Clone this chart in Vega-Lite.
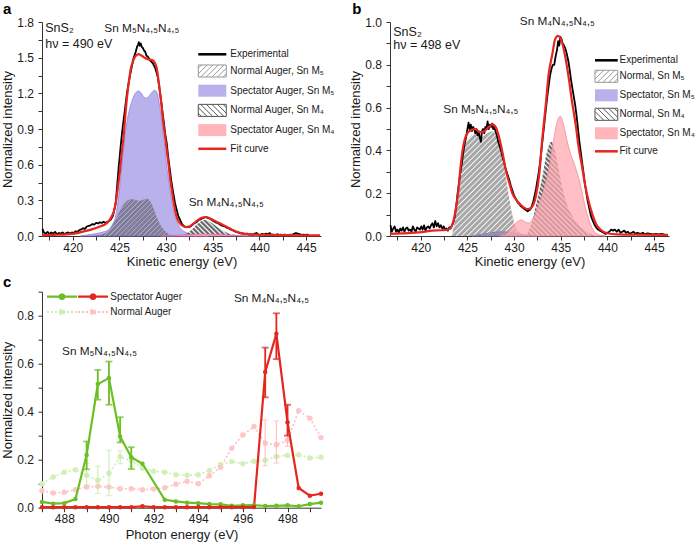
{
"$schema": "https://vega.github.io/schema/vega-lite/v6.json",
"background": "white",
"padding": {"left": 1, "top": 1, "right": 4, "bottom": 4},
"bounds": "flush",
"columns": 2,
"spacing": {"row": 55.7, "column": 69},
"resolve": {"scale": {"fill": "independent", "stroke": "independent", "shape": "independent", "strokeDash": "independent"}, "legend": {"fill": "independent", "stroke": "independent", "shape": "independent", "strokeDash": "independent"}},
"config": {
  "font": "Liberation Sans",
  "view": {"stroke": null},
  "axis": {"grid": false, "labelFontSize": 12, "titleFontSize": 13, "titleFontWeight": "normal", "labelColor": "#1a1a1a", "titleColor": "#1a1a1a", "domainColor": "#333333", "tickColor": "#333333", "tickSize": 4, "labelFlush": false, "labelOverlap": false},
  "axisX": {"labelPadding": 2, "titlePadding": 2},
  "axisY": {"labelPadding": 4.5, "titlePadding": 2},
  "legend": {"labelFont": "Liberation Sans", "labelColor": "#1a1a1a", "labelLimit": 300, "labelFontSize": 10, "symbolOpacity": 1},
  "title": {"fontSize": 15, "fontWeight": "bold", "anchor": "start", "frame": "group", "color": "#000000", "baseline": "alphabetic"},
  "text": {"font": "Liberation Sans", "fontSize": 12.5, "color": "#1a1a1a"}
},
"datasets": {
  "a_exp": [{"x":416.75,"y":0.06},{"x":416.9,"y":0.03},{"x":417.1,"y":0.02},{"x":417.3,"y":0.035},{"x":417.5,"y":0.015},{"x":417.7,"y":0.03},{"x":417.9,"y":0.02},{"x":418.1,"y":0.035},{"x":418.3,"y":0.015},{"x":418.5,"y":0.025},{"x":418.7,"y":0.02},{"x":418.9,"y":0.03},{"x":419.1,"y":0.015},{"x":419.3,"y":0.025},{"x":419.5,"y":0.03},{"x":419.7,"y":0.02},{"x":419.9,"y":0.03},{"x":420.1,"y":0.025},{"x":420.3,"y":0.04},{"x":420.5,"y":0.035},{"x":420.7,"y":0.05},{"x":420.9,"y":0.055},{"x":421.1,"y":0.065},{"x":421.3,"y":0.06},{"x":421.5,"y":0.08},{"x":421.7,"y":0.085},{"x":421.9,"y":0.09},{"x":422.1,"y":0.1},{"x":422.3,"y":0.095},{"x":422.5,"y":0.11},{"x":422.7,"y":0.105},{"x":422.9,"y":0.115},{"x":423.1,"y":0.11},{"x":423.3,"y":0.12},{"x":423.5,"y":0.11},{"x":423.7,"y":0.12},{"x":423.9,"y":0.125},{"x":424.1,"y":0.14},{"x":424.3,"y":0.17},{"x":424.45,"y":0.22},{"x":424.6,"y":0.28},{"x":424.75,"y":0.42},{"x":424.92,"y":0.58},{"x":425.1,"y":0.73},{"x":425.28,"y":0.87},{"x":425.45,"y":0.98},{"x":425.63,"y":1.09},{"x":425.8,"y":1.2},{"x":425.99,"y":1.29},{"x":426.15,"y":1.36},{"x":426.34,"y":1.43},{"x":426.5,"y":1.49},{"x":426.62,"y":1.52},{"x":426.75,"y":1.55},{"x":426.88,"y":1.59},{"x":427.0,"y":1.61},{"x":427.08,"y":1.63},{"x":427.18,"y":1.6},{"x":427.28,"y":1.62},{"x":427.4,"y":1.59},{"x":427.52,"y":1.58},{"x":427.64,"y":1.56},{"x":427.76,"y":1.55},{"x":427.88,"y":1.52},{"x":428.0,"y":1.51},{"x":428.12,"y":1.5},{"x":428.24,"y":1.48},{"x":428.36,"y":1.47},{"x":428.48,"y":1.46},{"x":428.6,"y":1.45},{"x":428.72,"y":1.43},{"x":428.84,"y":1.41},{"x":428.96,"y":1.38},{"x":429.1,"y":1.34},{"x":429.22,"y":1.28},{"x":429.36,"y":1.2},{"x":429.5,"y":1.12},{"x":429.63,"y":1.03},{"x":429.77,"y":0.95},{"x":429.9,"y":0.86},{"x":430.07,"y":0.78},{"x":430.22,"y":0.67},{"x":430.4,"y":0.56},{"x":430.58,"y":0.45},{"x":430.77,"y":0.36},{"x":430.95,"y":0.28},{"x":431.13,"y":0.22},{"x":431.3,"y":0.17},{"x":431.5,"y":0.135},{"x":431.7,"y":0.1},{"x":431.9,"y":0.085},{"x":432.1,"y":0.075},{"x":432.3,"y":0.08},{"x":432.5,"y":0.075},{"x":432.7,"y":0.085},{"x":432.9,"y":0.1},{"x":433.1,"y":0.11},{"x":433.3,"y":0.12},{"x":433.5,"y":0.135},{"x":433.7,"y":0.14},{"x":433.9,"y":0.15},{"x":434.1,"y":0.155},{"x":434.3,"y":0.16},{"x":434.5,"y":0.15},{"x":434.7,"y":0.145},{"x":434.9,"y":0.135},{"x":435.1,"y":0.125},{"x":435.3,"y":0.115},{"x":435.5,"y":0.11},{"x":435.7,"y":0.1},{"x":435.9,"y":0.09},{"x":436.1,"y":0.085},{"x":436.3,"y":0.08},{"x":436.5,"y":0.07},{"x":436.7,"y":0.065},{"x":436.9,"y":0.055},{"x":437.1,"y":0.05},{"x":437.3,"y":0.04},{"x":437.5,"y":0.035},{"x":437.7,"y":0.03},{"x":437.9,"y":0.025},{"x":438.1,"y":0.02},{"x":438.3,"y":0.02},{"x":438.5,"y":0.015},{"x":438.7,"y":0.02},{"x":438.9,"y":0.012},{"x":439.1,"y":0.015},{"x":439.3,"y":0.01},{"x":439.5,"y":0.02},{"x":439.7,"y":0.025},{"x":439.9,"y":0.012},{"x":440.1,"y":0.01},{"x":440.3,"y":0.018},{"x":440.5,"y":0.012},{"x":440.7,"y":0.02},{"x":440.9,"y":0.015},{"x":441.1,"y":0.025},{"x":441.3,"y":0.01},{"x":441.5,"y":0.012},{"x":441.7,"y":0.008},{"x":441.9,"y":0.015},{"x":442.1,"y":0.01},{"x":442.3,"y":0.012},{"x":442.5,"y":0.008},{"x":442.7,"y":0.012},{"x":442.9,"y":0.01},{"x":443.1,"y":0.008},{"x":443.3,"y":0.012},{"x":443.5,"y":0.01},{"x":443.7,"y":0.018},{"x":443.9,"y":0.025},{"x":444.1,"y":0.02},{"x":444.3,"y":0.015},{"x":444.5,"y":0.01},{"x":444.7,"y":0.012},{"x":444.9,"y":0.01},{"x":445.1,"y":0.012},{"x":445.3,"y":0.008}],
  "a_fit": [{"x":416.7,"y":0.008},{"x":418,"y":0.01},{"x":419,"y":0.012},{"x":420.1,"y":0.02},{"x":421.1,"y":0.037},{"x":422.2,"y":0.06},{"x":422.9,"y":0.08},{"x":423.6,"y":0.105},{"x":424.0,"y":0.14},{"x":424.2,"y":0.17},{"x":424.45,"y":0.22},{"x":424.65,"y":0.3},{"x":424.85,"y":0.42},{"x":425.06,"y":0.55},{"x":425.25,"y":0.7},{"x":425.4,"y":0.8},{"x":425.6,"y":0.98},{"x":425.75,"y":1.12},{"x":425.9,"y":1.23},{"x":426.05,"y":1.32},{"x":426.2,"y":1.4},{"x":426.45,"y":1.47},{"x":426.7,"y":1.51},{"x":427.05,"y":1.53},{"x":427.3,"y":1.52},{"x":427.6,"y":1.505},{"x":427.95,"y":1.49},{"x":428.2,"y":1.485},{"x":428.5,"y":1.48},{"x":428.8,"y":1.455},{"x":429.0,"y":1.41},{"x":429.15,"y":1.33},{"x":429.36,"y":1.2},{"x":429.53,"y":1.08},{"x":429.7,"y":0.95},{"x":429.9,"y":0.83},{"x":430.07,"y":0.72},{"x":430.25,"y":0.61},{"x":430.4,"y":0.5},{"x":430.6,"y":0.39},{"x":430.77,"y":0.3},{"x":430.95,"y":0.22},{"x":431.13,"y":0.16},{"x":431.35,"y":0.12},{"x":431.6,"y":0.095},{"x":431.9,"y":0.08},{"x":432.2,"y":0.075},{"x":432.5,"y":0.08},{"x":432.8,"y":0.095},{"x":433.1,"y":0.115},{"x":433.5,"y":0.14},{"x":433.9,"y":0.155},{"x":434.2,"y":0.16},{"x":434.5,"y":0.155},{"x":434.9,"y":0.14},{"x":435.3,"y":0.125},{"x":435.8,"y":0.105},{"x":436.3,"y":0.085},{"x":436.8,"y":0.065},{"x":437.2,"y":0.048},{"x":437.7,"y":0.032},{"x":438.2,"y":0.022},{"x":438.8,"y":0.015},{"x":439.5,"y":0.012},{"x":440.5,"y":0.01},{"x":442,"y":0.008},{"x":444,"y":0.006},{"x":446.5,"y":0.005}],
  "a_s5": [{"x":420.8,"y":0},{"x":421.5,"y":0.008},{"x":422.5,"y":0.02},{"x":423.3,"y":0.035},{"x":423.8,"y":0.05},{"x":424.2,"y":0.09},{"x":424.6,"y":0.17},{"x":424.9,"y":0.32},{"x":425.15,"y":0.5},{"x":425.4,"y":0.7},{"x":425.65,"y":0.88},{"x":425.9,"y":1.0},{"x":426.2,"y":1.1},{"x":426.5,"y":1.17},{"x":426.8,"y":1.21},{"x":427.05,"y":1.22},{"x":427.35,"y":1.2},{"x":427.6,"y":1.17},{"x":427.9,"y":1.16},{"x":428.2,"y":1.18},{"x":428.5,"y":1.21},{"x":428.8,"y":1.225},{"x":429.05,"y":1.2},{"x":429.25,"y":1.12},{"x":429.45,"y":1.02},{"x":429.65,"y":0.88},{"x":429.85,"y":0.75},{"x":430.05,"y":0.6},{"x":430.3,"y":0.45},{"x":430.55,"y":0.32},{"x":430.8,"y":0.21},{"x":431.1,"y":0.13},{"x":431.5,"y":0.07},{"x":432.0,"y":0.035},{"x":432.6,"y":0.015},{"x":433.3,"y":0.006},{"x":434.5,"y":0}],
  "a_n5": [{"x":421.9,"y":0},{"x":422.8,"y":0.01},{"x":423.5,"y":0.025},{"x":424.0,"y":0.06},{"x":424.4,"y":0.11},{"x":424.9,"y":0.19},{"x":425.4,"y":0.26},{"x":425.9,"y":0.3},{"x":426.3,"y":0.312},{"x":426.7,"y":0.302},{"x":427.1,"y":0.296},{"x":427.5,"y":0.303},{"x":427.9,"y":0.315},{"x":428.2,"y":0.3},{"x":428.5,"y":0.26},{"x":428.8,"y":0.2},{"x":429.1,"y":0.14},{"x":429.5,"y":0.08},{"x":429.9,"y":0.04},{"x":430.4,"y":0.012},{"x":430.9,"y":0}],
  "a_n4": [{"x":431.6,"y":0},{"x":432.2,"y":0.02},{"x":432.7,"y":0.05},{"x":433.2,"y":0.09},{"x":433.7,"y":0.122},{"x":434.1,"y":0.135},{"x":434.5,"y":0.128},{"x":434.9,"y":0.11},{"x":435.4,"y":0.08},{"x":436.0,"y":0.048},{"x":436.7,"y":0.022},{"x":437.5,"y":0.008},{"x":438.3,"y":0}],
  "a_s4": [{"x":429.5,"y":0},{"x":431,"y":0.005},{"x":432.5,"y":0.012},{"x":434,"y":0.016},{"x":435.5,"y":0.012},{"x":437,"y":0.006},{"x":438.5,"y":0.002},{"x":440,"y":0}],
  "a_tl": [{"x":417.05,"y":1.749,"t":"SnS₂"},{"x":417.05,"y":1.615,"t":"hν = 490 eV"}],
  "a_tc": [{"x":427.4,"y":1.749,"t":"Sn M₅N₄,₅N₄,₅"},{"x":436.45,"y":0.286,"t":"Sn M₄N₄,₅N₄,₅"}],
  "b_exp": [{"x":416.75,"y":0.05},{"x":416.9,"y":0.02},{"x":417.05,"y":0.035},{"x":417.2,"y":0.045},{"x":417.35,"y":0.02},{"x":417.5,"y":0.03},{"x":417.65,"y":0.015},{"x":417.8,"y":0.035},{"x":417.95,"y":0.025},{"x":418.1,"y":0.04},{"x":418.25,"y":0.02},{"x":418.4,"y":0.035},{"x":418.55,"y":0.04},{"x":418.7,"y":0.025},{"x":418.85,"y":0.03},{"x":419.0,"y":0.02},{"x":419.15,"y":0.045},{"x":419.3,"y":0.03},{"x":419.45,"y":0.02},{"x":419.6,"y":0.04},{"x":419.75,"y":0.035},{"x":419.9,"y":0.03},{"x":420.05,"y":0.045},{"x":420.2,"y":0.03},{"x":420.35,"y":0.05},{"x":420.5,"y":0.025},{"x":420.65,"y":0.04},{"x":420.8,"y":0.045},{"x":420.95,"y":0.035},{"x":421.1,"y":0.05},{"x":421.25,"y":0.06},{"x":421.4,"y":0.04},{"x":421.55,"y":0.07},{"x":421.7,"y":0.045},{"x":421.85,"y":0.06},{"x":422.0,"y":0.04},{"x":422.15,"y":0.05},{"x":422.3,"y":0.035},{"x":422.45,"y":0.045},{"x":422.6,"y":0.03},{"x":422.75,"y":0.035},{"x":422.9,"y":0.025},{"x":423.05,"y":0.04},{"x":423.2,"y":0.035},{"x":423.35,"y":0.05},{"x":423.5,"y":0.065},{"x":423.65,"y":0.09},{"x":423.8,"y":0.14},{"x":423.95,"y":0.2},{"x":424.1,"y":0.25},{"x":424.25,"y":0.3},{"x":424.4,"y":0.34},{"x":424.55,"y":0.39},{"x":424.7,"y":0.43},{"x":424.85,"y":0.46},{"x":425.0,"y":0.5},{"x":425.12,"y":0.53},{"x":425.24,"y":0.5},{"x":425.36,"y":0.52},{"x":425.48,"y":0.49},{"x":425.6,"y":0.51},{"x":425.72,"y":0.5},{"x":425.84,"y":0.48},{"x":425.96,"y":0.5},{"x":426.08,"y":0.47},{"x":426.2,"y":0.49},{"x":426.32,"y":0.46},{"x":426.44,"y":0.44},{"x":426.56,"y":0.49},{"x":426.68,"y":0.5},{"x":426.8,"y":0.48},{"x":426.92,"y":0.51},{"x":427.04,"y":0.5},{"x":427.16,"y":0.535},{"x":427.28,"y":0.5},{"x":427.4,"y":0.52},{"x":427.52,"y":0.51},{"x":427.64,"y":0.525},{"x":427.76,"y":0.5},{"x":427.88,"y":0.51},{"x":428.0,"y":0.49},{"x":428.15,"y":0.47},{"x":428.3,"y":0.44},{"x":428.45,"y":0.42},{"x":428.6,"y":0.4},{"x":428.75,"y":0.37},{"x":428.9,"y":0.35},{"x":429.05,"y":0.32},{"x":429.2,"y":0.3},{"x":429.35,"y":0.28},{"x":429.5,"y":0.26},{"x":429.65,"y":0.235},{"x":429.8,"y":0.215},{"x":429.95,"y":0.195},{"x":430.1,"y":0.18},{"x":430.25,"y":0.17},{"x":430.4,"y":0.155},{"x":430.55,"y":0.15},{"x":430.7,"y":0.14},{"x":430.85,"y":0.135},{"x":431.0,"y":0.13},{"x":431.15,"y":0.125},{"x":431.3,"y":0.12},{"x":431.45,"y":0.115},{"x":431.6,"y":0.12},{"x":431.75,"y":0.125},{"x":431.9,"y":0.14},{"x":432.05,"y":0.16},{"x":432.2,"y":0.19},{"x":432.35,"y":0.22},{"x":432.5,"y":0.26},{"x":432.65,"y":0.3},{"x":432.8,"y":0.35},{"x":432.95,"y":0.41},{"x":433.1,"y":0.47},{"x":433.25,"y":0.53},{"x":433.4,"y":0.59},{"x":433.55,"y":0.65},{"x":433.7,"y":0.7},{"x":433.85,"y":0.75},{"x":434.0,"y":0.78},{"x":434.15,"y":0.8},{"x":434.3,"y":0.8},{"x":434.45,"y":0.84},{"x":434.6,"y":0.87},{"x":434.72,"y":0.91},{"x":434.84,"y":0.89},{"x":434.96,"y":0.93},{"x":435.08,"y":0.92},{"x":435.2,"y":0.9},{"x":435.35,"y":0.89},{"x":435.5,"y":0.875},{"x":435.65,"y":0.85},{"x":435.8,"y":0.82},{"x":435.95,"y":0.78},{"x":436.1,"y":0.73},{"x":436.25,"y":0.69},{"x":436.4,"y":0.65},{"x":436.55,"y":0.61},{"x":436.7,"y":0.56},{"x":436.85,"y":0.5},{"x":437.0,"y":0.44},{"x":437.15,"y":0.39},{"x":437.3,"y":0.34},{"x":437.45,"y":0.29},{"x":437.6,"y":0.24},{"x":437.75,"y":0.2},{"x":437.9,"y":0.16},{"x":438.05,"y":0.13},{"x":438.2,"y":0.1},{"x":438.35,"y":0.08},{"x":438.5,"y":0.065},{"x":438.65,"y":0.05},{"x":438.8,"y":0.04},{"x":439.0,"y":0.03},{"x":439.2,"y":0.025},{"x":439.4,"y":0.02},{"x":439.6,"y":0.015},{"x":439.8,"y":0.01},{"x":440.0,"y":0.015},{"x":440.2,"y":0.02},{"x":440.4,"y":0.03},{"x":440.6,"y":0.025},{"x":440.8,"y":0.03},{"x":441.0,"y":0.02},{"x":441.2,"y":0.03},{"x":441.4,"y":0.015},{"x":441.6,"y":0.02},{"x":441.8,"y":0.025},{"x":442.0,"y":0.015},{"x":442.2,"y":0.02},{"x":442.4,"y":0.01},{"x":442.6,"y":0.015},{"x":442.8,"y":0.02},{"x":443.0,"y":0.01},{"x":443.2,"y":0.015},{"x":443.4,"y":0.012},{"x":443.6,"y":0.01},{"x":443.8,"y":0.015},{"x":444.0,"y":0.008},{"x":444.3,"y":0.012},{"x":444.6,"y":0.01},{"x":444.9,"y":0.008},{"x":445.2,"y":0.01},{"x":445.5,"y":0.008},{"x":445.8,"y":0.01},{"x":446.1,"y":0.008}],
  "b_fit": [{"x":416.7,"y":0.01},{"x":418,"y":0.012},{"x":419,"y":0.015},{"x":420.1,"y":0.018},{"x":421.2,"y":0.025},{"x":422.2,"y":0.027},{"x":422.9,"y":0.03},{"x":423.3,"y":0.046},{"x":423.6,"y":0.09},{"x":424.0,"y":0.2},{"x":424.3,"y":0.34},{"x":424.7,"y":0.45},{"x":425.2,"y":0.49},{"x":425.8,"y":0.5},{"x":426.3,"y":0.485},{"x":426.8,"y":0.49},{"x":427.3,"y":0.51},{"x":427.7,"y":0.522},{"x":428.05,"y":0.507},{"x":428.4,"y":0.46},{"x":428.8,"y":0.38},{"x":429.1,"y":0.31},{"x":429.5,"y":0.245},{"x":429.8,"y":0.2},{"x":430.4,"y":0.16},{"x":430.9,"y":0.138},{"x":431.4,"y":0.126},{"x":431.8,"y":0.13},{"x":432.1,"y":0.15},{"x":432.3,"y":0.18},{"x":432.7,"y":0.29},{"x":433.0,"y":0.445},{"x":433.4,"y":0.616},{"x":433.7,"y":0.755},{"x":434.1,"y":0.85},{"x":434.4,"y":0.92},{"x":434.7,"y":0.935},{"x":435.1,"y":0.91},{"x":435.5,"y":0.833},{"x":435.85,"y":0.74},{"x":436.2,"y":0.63},{"x":436.6,"y":0.52},{"x":436.9,"y":0.42},{"x":437.3,"y":0.32},{"x":437.6,"y":0.24},{"x":438.0,"y":0.16},{"x":438.4,"y":0.1},{"x":438.8,"y":0.055},{"x":439.3,"y":0.028},{"x":440.0,"y":0.013},{"x":441,"y":0.008},{"x":443,"y":0.006},{"x":446.5,"y":0.005}],
  "b_n5": [{"x":423.3,"y":0},{"x":423.6,"y":0.06},{"x":424.0,"y":0.17},{"x":424.3,"y":0.3},{"x":424.7,"y":0.41},{"x":425.2,"y":0.46},{"x":425.8,"y":0.475},{"x":426.3,"y":0.465},{"x":426.8,"y":0.47},{"x":427.3,"y":0.485},{"x":427.7,"y":0.49},{"x":428.05,"y":0.47},{"x":428.4,"y":0.43},{"x":428.8,"y":0.36},{"x":429.1,"y":0.28},{"x":429.5,"y":0.17},{"x":429.8,"y":0.1},{"x":430.1,"y":0.05},{"x":430.5,"y":0.02},{"x":431.0,"y":0.005},{"x":431.3,"y":0}],
  "b_s5": [{"x":425.5,"y":0},{"x":426.5,"y":0.008},{"x":427.5,"y":0.015},{"x":428.5,"y":0.02},{"x":429.5,"y":0.018},{"x":430.5,"y":0.01},{"x":431.5,"y":0.004},{"x":432.5,"y":0}],
  "b_s4": [{"x":428.5,"y":0},{"x":429.3,"y":0.015},{"x":429.8,"y":0.04},{"x":430.3,"y":0.065},{"x":430.8,"y":0.075},{"x":431.2,"y":0.065},{"x":431.6,"y":0.06},{"x":432.0,"y":0.08},{"x":432.5,"y":0.13},{"x":433.2,"y":0.22},{"x":433.7,"y":0.31},{"x":434.2,"y":0.44},{"x":434.6,"y":0.53},{"x":434.95,"y":0.56},{"x":435.3,"y":0.52},{"x":435.7,"y":0.44},{"x":436.0,"y":0.39},{"x":436.5,"y":0.33},{"x":437.1,"y":0.24},{"x":437.6,"y":0.14},{"x":438.1,"y":0.065},{"x":438.6,"y":0.02},{"x":439.2,"y":0.005},{"x":439.8,"y":0}],
  "b_n4": [{"x":431.3,"y":0},{"x":432.0,"y":0.08},{"x":432.5,"y":0.175},{"x":433.05,"y":0.28},{"x":433.4,"y":0.37},{"x":433.8,"y":0.43},{"x":434.0,"y":0.44},{"x":434.3,"y":0.41},{"x":434.7,"y":0.33},{"x":435.2,"y":0.22},{"x":435.7,"y":0.144},{"x":436.4,"y":0.082},{"x":437.1,"y":0.043},{"x":437.8,"y":0.02},{"x":438.8,"y":0}],
  "b_tl": [{"x":417.05,"y":0.953,"t":"SnS₂"},{"x":417.05,"y":0.894,"t":"hν = 498 eV"}],
  "b_tc": [{"x":434.63,"y":1.005,"t":"Sn M₄N₄,₅N₄,₅"},{"x":426.43,"y":0.592,"t":"Sn M₅N₄,₅N₄,₅"}],
  "c_s5": [{"x":487,"y":0.024},{"x":487.5,"y":0.017},{"x":488,"y":0.019},{"x":488.5,"y":0.036},{"x":489,"y":0.22},{"x":489.5,"y":0.515},{"x":490,"y":0.54},{"x":490.5,"y":0.297},{"x":491,"y":0.21},{"x":491.5,"y":0.183},{"x":492.5,"y":0.033},{"x":493,"y":0.026},{"x":493.5,"y":0.021},{"x":494,"y":0.019},{"x":494.5,"y":0.015},{"x":495,"y":0.014},{"x":495.5,"y":0.008},{"x":496,"y":0.01},{"x":496.5,"y":0.011},{"x":497,"y":0.007},{"x":497.5,"y":0.008},{"x":498,"y":0.01},{"x":498.5,"y":0.006},{"x":499,"y":0.015},{"x":499.5,"y":0.021}],
  "c_s4": [{"x":487,"y":0.002},{"x":487.5,"y":0.002},{"x":488,"y":0.002},{"x":488.5,"y":0.002},{"x":489,"y":0.002},{"x":489.5,"y":0.002},{"x":490,"y":0.002},{"x":490.5,"y":0.002},{"x":491,"y":0.002},{"x":491.5,"y":0.006},{"x":492,"y":0.002},{"x":492.5,"y":0.002},{"x":493,"y":0.002},{"x":493.5,"y":0.002},{"x":494,"y":0.003},{"x":494.5,"y":0.002},{"x":495,"y":0.002},{"x":495.5,"y":0.002},{"x":496,"y":0.002},{"x":496.5,"y":0.003},{"x":497,"y":0.565},{"x":497.5,"y":0.725},{"x":498,"y":0.356},{"x":498.5,"y":0.082},{"x":499,"y":0.05},{"x":499.5,"y":0.058}],
  "c_n5": [{"x":487,"y":0.1},{"x":487.5,"y":0.128},{"x":488,"y":0.148},{"x":488.5,"y":0.158},{"x":489,"y":0.135},{"x":489.5,"y":0.114},{"x":490,"y":0.144},{"x":490.5,"y":0.212},{"x":491,"y":0.196},{"x":491.5,"y":0.165},{"x":492,"y":0.152},{"x":492.5,"y":0.148},{"x":493,"y":0.137},{"x":493.5,"y":0.135},{"x":494,"y":0.137},{"x":494.5,"y":0.155},{"x":495,"y":0.18},{"x":495.5,"y":0.192},{"x":496,"y":0.183},{"x":496.5,"y":0.194},{"x":497,"y":0.198},{"x":497.5,"y":0.213},{"x":498,"y":0.218},{"x":498.5,"y":0.221},{"x":499,"y":0.207},{"x":499.5,"y":0.21}],
  "c_n4": [{"x":487,"y":0.071},{"x":487.5,"y":0.061},{"x":488,"y":0.064},{"x":488.5,"y":0.075},{"x":489,"y":0.086},{"x":489.5,"y":0.089},{"x":490,"y":0.086},{"x":490.5,"y":0.079},{"x":491,"y":0.079},{"x":491.5,"y":0.075},{"x":492,"y":0.078},{"x":492.5,"y":0.083},{"x":493,"y":0.098},{"x":493.5,"y":0.11},{"x":494,"y":0.1},{"x":494.5,"y":0.133},{"x":495,"y":0.169},{"x":495.5,"y":0.248},{"x":496,"y":0.303},{"x":496.5,"y":0.338},{"x":497,"y":0.269},{"x":497.5,"y":0.262},{"x":498,"y":0.281},{"x":498.5,"y":0.404},{"x":499,"y":0.373},{"x":499.5,"y":0.292}],
  "c_es5": [{"x":489,"lo":0.16,"hi":0.276},{"x":489.5,"lo":0.45,"hi":0.574},{"x":490,"lo":0.429,"hi":0.609},{"x":490.5,"lo":0.272,"hi":0.377},{"x":491,"lo":0.161,"hi":0.252}],
  "c_es4": [{"x":497,"lo":0.46,"hi":0.667},{"x":497.5,"lo":0.619,"hi":0.81},{"x":498,"lo":0.3,"hi":0.429}],
  "c_en5": [{"x":489,"lo":0.095,"hi":0.185},{"x":489.5,"lo":0.06,"hi":0.174},{"x":490,"lo":0.05,"hi":0.24},{"x":490.5,"lo":0.183,"hi":0.237},{"x":491,"lo":0.17,"hi":0.21}],
  "c_en4": [{"x":497,"lo":0.175,"hi":0.366},{"x":497.5,"lo":0.186,"hi":0.361},{"x":498,"lo":0.255,"hi":0.305}],
  "c_tc": [{"x":489.58,"y":0.655,"t":"Sn M₅N₄,₅N₄,₅"},{"x":497.28,"y":0.874,"t":"Sn M₄N₄,₅N₄,₅"}]
},
"concat": [
  {
   "width": 279, "height": 214,
   "title": {"text": "a", "dx": -39, "offset": -1},
   "encoding": {
    "x": {"field": "x", "type": "quantitative", "scale": {"domain": [416.7, 446.6], "nice": false, "zero": false}, "axis": {"title": "Kinetic energy (eV)", "values": [417.5,420,422.5,425,427.5,430,432.5,435,437.5,440,442.5,445], "labelExpr": "datum.value % 5 === 0 ? format(datum.value, 'd') : ''"}},
    "y": {"field": "y", "type": "quantitative", "scale": {"domain": [0, 1.8], "nice": false}, "axis": {"title": "Normalized intensity", "values": [0,0.15,0.3,0.45,0.6,0.75,0.9,1.05,1.2,1.35,1.5,1.65,1.8], "labelExpr": "abs(datum.value/0.3 - round(datum.value/0.3)) < 0.01 ? format(datum.value, '.1f') : ''"}}
   },
   "layer": [
    {"data": {"name": "a_s5"}, "mark": {"type": "area", "interpolate": "monotone", "fill": "#b9b1ec", "stroke": "#8f84dc", "strokeWidth": 0.8}},
    {"data": {"name": "a_n5"}, "mark": {"type": "area", "interpolate": "monotone", "strokeWidth": 0, "fill": {"gradient": "linear", "x1": 0, "y1": 0, "x2": 1.206, "y2": 0.537, "stops": [{"offset":0,"color":"#8c8c8c"},{"offset":0.02,"color":"transparent"},{"offset":0.04,"color":"#8c8c8c"},{"offset":0.06,"color":"transparent"},{"offset":0.08,"color":"#8c8c8c"},{"offset":0.1,"color":"transparent"},{"offset":0.12,"color":"#8c8c8c"},{"offset":0.14,"color":"transparent"},{"offset":0.16,"color":"#8c8c8c"},{"offset":0.18,"color":"transparent"},{"offset":0.2,"color":"#8c8c8c"},{"offset":0.22,"color":"transparent"},{"offset":0.24,"color":"#8c8c8c"},{"offset":0.26,"color":"transparent"},{"offset":0.28,"color":"#8c8c8c"},{"offset":0.3,"color":"transparent"},{"offset":0.32,"color":"#8c8c8c"},{"offset":0.34,"color":"transparent"},{"offset":0.36,"color":"#8c8c8c"},{"offset":0.38,"color":"transparent"},{"offset":0.4,"color":"#8c8c8c"},{"offset":0.42,"color":"transparent"},{"offset":0.44,"color":"#8c8c8c"},{"offset":0.46,"color":"transparent"},{"offset":0.48,"color":"#8c8c8c"},{"offset":0.5,"color":"transparent"},{"offset":0.52,"color":"#8c8c8c"},{"offset":0.54,"color":"transparent"},{"offset":0.56,"color":"#8c8c8c"},{"offset":0.58,"color":"transparent"},{"offset":0.6,"color":"#8c8c8c"},{"offset":0.62,"color":"transparent"},{"offset":0.64,"color":"#8c8c8c"},{"offset":0.66,"color":"transparent"},{"offset":0.68,"color":"#8c8c8c"},{"offset":0.7,"color":"transparent"},{"offset":0.72,"color":"#8c8c8c"},{"offset":0.74,"color":"transparent"},{"offset":0.76,"color":"#8c8c8c"},{"offset":0.78,"color":"transparent"},{"offset":0.8,"color":"#8c8c8c"},{"offset":0.82,"color":"transparent"},{"offset":0.84,"color":"#8c8c8c"},{"offset":0.86,"color":"transparent"},{"offset":0.88,"color":"#8c8c8c"},{"offset":0.9,"color":"transparent"},{"offset":0.92,"color":"#8c8c8c"},{"offset":0.94,"color":"transparent"},{"offset":0.96,"color":"#8c8c8c"},{"offset":0.98,"color":"transparent"},{"offset":1,"color":"#8c8c8c"}]}}},
    {"data": {"name": "a_n4"}, "mark": {"type": "area", "interpolate": "monotone", "strokeWidth": 0, "fill": {"gradient": "linear", "x1": 0, "y1": 1, "x2": 1.179, "y2": 0.697, "stops": [{"offset":0,"color":"#555555"},{"offset":0.03125,"color":"transparent"},{"offset":0.0625,"color":"#555555"},{"offset":0.09375,"color":"transparent"},{"offset":0.125,"color":"#555555"},{"offset":0.15625,"color":"transparent"},{"offset":0.1875,"color":"#555555"},{"offset":0.21875,"color":"transparent"},{"offset":0.25,"color":"#555555"},{"offset":0.28125,"color":"transparent"},{"offset":0.3125,"color":"#555555"},{"offset":0.34375,"color":"transparent"},{"offset":0.375,"color":"#555555"},{"offset":0.40625,"color":"transparent"},{"offset":0.4375,"color":"#555555"},{"offset":0.46875,"color":"transparent"},{"offset":0.5,"color":"#555555"},{"offset":0.53125,"color":"transparent"},{"offset":0.5625,"color":"#555555"},{"offset":0.59375,"color":"transparent"},{"offset":0.625,"color":"#555555"},{"offset":0.65625,"color":"transparent"},{"offset":0.6875,"color":"#555555"},{"offset":0.71875,"color":"transparent"},{"offset":0.75,"color":"#555555"},{"offset":0.78125,"color":"transparent"},{"offset":0.8125,"color":"#555555"},{"offset":0.84375,"color":"transparent"},{"offset":0.875,"color":"#555555"},{"offset":0.90625,"color":"transparent"},{"offset":0.9375,"color":"#555555"},{"offset":0.96875,"color":"transparent"},{"offset":1,"color":"#555555"}]}}},
    {"data": {"name": "a_s4"}, "mark": {"type": "area", "interpolate": "monotone", "fill": "#ffb5ba", "stroke": "#d86aa8", "strokeWidth": 0.8}},
    {"data": {"name": "a_exp"}, "mark": {"type": "line", "strokeWidth": 1.8, "strokeJoin": "round", "color": "#000000"}},
    {"data": {"name": "a_fit"}, "mark": {"type": "line", "interpolate": "monotone", "strokeWidth": 2.2, "color": "#e8251e"}},
    {"data": {"name": "a_tl"}, "mark": {"type": "text", "align": "left", "baseline": "middle"}, "encoding": {"text": {"field": "t"}}},
    {"data": {"name": "a_tc"}, "mark": {"type": "text", "align": "center", "baseline": "middle", "fontSize": 11.8}, "encoding": {"text": {"field": "t"}}},
    {"data": {"values": []}, "mark": {"type": "point", "opacity": 1},
     "encoding": {
      "fill": {"field": "s", "type": "nominal",
        "scale": {"domain": ["Experimental", "Normal Auger, Sn M₅", "Spectator Auger, Sn M₅", "Normal Auger, Sn M₄", "Spectator Auger, Sn M₄", "Fit curve"],
          "range": ["#000000", "#ffffff", "#b9b1ec", "#ffffff", "#ffb5ba", "#e8251e"]},
        "legend": {"title": null, "orient": "none", "legendX": 155.8, "legendY": 24.8, "symbolSize": 196, "symbolStrokeWidth": 1, "labelOffset": 17.5, "rowPadding": 2.7}},
      "stroke": {"field": "s", "type": "nominal",
        "scale": {"domain": ["Experimental", "Normal Auger, Sn M₅", "Spectator Auger, Sn M₅", "Normal Auger, Sn M₄", "Spectator Auger, Sn M₄", "Fit curve"],
          "range": ["transparent", "#999999", "transparent", "#555555", "transparent", "transparent"]}},
      "shape": {"field": "s", "type": "nominal",
        "scale": {"domain": ["Experimental", "Normal Auger, Sn M₅", "Spectator Auger, Sn M₅", "Normal Auger, Sn M₄", "Spectator Auger, Sn M₄", "Fit curve"],
          "range": ["M-1,-0.18H3V0.18H-1Z",
                    "M-1,-0.86H3V0.86H-1Z M-1,-0.4L-0.54,-0.86 M-1,0.4L0.26,-0.86 M-0.66,0.86L1.06,-0.86 M0.14,0.86L1.86,-0.86 M0.94,0.86L2.66,-0.86 M1.74,0.86L3,-0.4 M2.54,0.86L3,0.4",
                    "M-1,-0.86H3V0.86H-1Z",
                    "M-1,-0.86H3V0.86H-1Z M-1,0.4L-0.54,0.86 M-1,-0.4L0.26,0.86 M-0.66,-0.86L1.06,0.86 M0.14,-0.86L1.86,0.86 M0.94,-0.86L2.66,0.86 M1.74,-0.86L3,0.4 M2.54,-0.86L3,-0.4",
                    "M-1,-0.86H3V0.86H-1Z",
                    "M-1,-0.18H3V0.18H-1Z"]}}
     }}
   ]
  },
  {
   "width": 279, "height": 214,
   "title": {"text": "b", "dx": -37.7, "offset": -1},
   "encoding": {
    "x": {"field": "x", "type": "quantitative", "scale": {"domain": [416.7, 446.6], "nice": false, "zero": false}, "axis": {"title": "Kinetic energy (eV)", "values": [417.5,420,422.5,425,427.5,430,432.5,435,437.5,440,442.5,445], "labelExpr": "datum.value % 5 === 0 ? format(datum.value, 'd') : ''"}},
    "y": {"field": "y", "type": "quantitative", "scale": {"domain": [0, 1.0], "nice": false}, "axis": {"title": "Normalized intensity", "values": [0,0.1,0.2,0.3,0.4,0.5,0.6,0.7,0.8,0.9,1.0], "labelExpr": "abs(datum.value*5 - round(datum.value*5)) < 0.01 ? format(datum.value, '.1f') : ''"}}
   },
   "layer": [
    {"data": {"name": "b_s5"}, "mark": {"type": "area", "interpolate": "monotone", "fill": "#b9b1ec", "stroke": "#8f84dc", "strokeWidth": 0.8}},
    {"data": {"name": "b_n5"}, "mark": {"type": "area", "interpolate": "monotone", "strokeWidth": 0, "fill": {"gradient": "linear", "x1": 0, "y1": 0, "x2": 0.808, "y2": 1.136, "stops": [{"offset":0,"color":"#b0b0b0"},{"offset":0.015625,"color":"transparent"},{"offset":0.03125,"color":"#b0b0b0"},{"offset":0.046875,"color":"transparent"},{"offset":0.0625,"color":"#b0b0b0"},{"offset":0.078125,"color":"transparent"},{"offset":0.09375,"color":"#b0b0b0"},{"offset":0.109375,"color":"transparent"},{"offset":0.125,"color":"#b0b0b0"},{"offset":0.140625,"color":"transparent"},{"offset":0.15625,"color":"#b0b0b0"},{"offset":0.171875,"color":"transparent"},{"offset":0.1875,"color":"#b0b0b0"},{"offset":0.203125,"color":"transparent"},{"offset":0.21875,"color":"#b0b0b0"},{"offset":0.234375,"color":"transparent"},{"offset":0.25,"color":"#b0b0b0"},{"offset":0.265625,"color":"transparent"},{"offset":0.28125,"color":"#b0b0b0"},{"offset":0.296875,"color":"transparent"},{"offset":0.3125,"color":"#b0b0b0"},{"offset":0.328125,"color":"transparent"},{"offset":0.34375,"color":"#b0b0b0"},{"offset":0.359375,"color":"transparent"},{"offset":0.375,"color":"#b0b0b0"},{"offset":0.390625,"color":"transparent"},{"offset":0.40625,"color":"#b0b0b0"},{"offset":0.421875,"color":"transparent"},{"offset":0.4375,"color":"#b0b0b0"},{"offset":0.453125,"color":"transparent"},{"offset":0.46875,"color":"#b0b0b0"},{"offset":0.484375,"color":"transparent"},{"offset":0.5,"color":"#b0b0b0"},{"offset":0.515625,"color":"transparent"},{"offset":0.53125,"color":"#b0b0b0"},{"offset":0.546875,"color":"transparent"},{"offset":0.5625,"color":"#b0b0b0"},{"offset":0.578125,"color":"transparent"},{"offset":0.59375,"color":"#b0b0b0"},{"offset":0.609375,"color":"transparent"},{"offset":0.625,"color":"#b0b0b0"},{"offset":0.640625,"color":"transparent"},{"offset":0.65625,"color":"#b0b0b0"},{"offset":0.671875,"color":"transparent"},{"offset":0.6875,"color":"#b0b0b0"},{"offset":0.703125,"color":"transparent"},{"offset":0.71875,"color":"#b0b0b0"},{"offset":0.734375,"color":"transparent"},{"offset":0.75,"color":"#b0b0b0"},{"offset":0.765625,"color":"transparent"},{"offset":0.78125,"color":"#b0b0b0"},{"offset":0.796875,"color":"transparent"},{"offset":0.8125,"color":"#b0b0b0"},{"offset":0.828125,"color":"transparent"},{"offset":0.84375,"color":"#b0b0b0"},{"offset":0.859375,"color":"transparent"},{"offset":0.875,"color":"#b0b0b0"},{"offset":0.890625,"color":"transparent"},{"offset":0.90625,"color":"#b0b0b0"},{"offset":0.921875,"color":"transparent"},{"offset":0.9375,"color":"#b0b0b0"},{"offset":0.953125,"color":"transparent"},{"offset":0.96875,"color":"#b0b0b0"},{"offset":0.984375,"color":"transparent"},{"offset":1,"color":"#b0b0b0"}]}}},
    {"data": {"name": "b_n4"}, "mark": {"type": "area", "interpolate": "monotone", "strokeWidth": 0, "fill": {"gradient": "linear", "x1": 0, "y1": 1, "x2": 0.834, "y2": -0.123, "stops": [{"offset":0,"color":"#555555"},{"offset":0.015625,"color":"transparent"},{"offset":0.03125,"color":"#555555"},{"offset":0.046875,"color":"transparent"},{"offset":0.0625,"color":"#555555"},{"offset":0.078125,"color":"transparent"},{"offset":0.09375,"color":"#555555"},{"offset":0.109375,"color":"transparent"},{"offset":0.125,"color":"#555555"},{"offset":0.140625,"color":"transparent"},{"offset":0.15625,"color":"#555555"},{"offset":0.171875,"color":"transparent"},{"offset":0.1875,"color":"#555555"},{"offset":0.203125,"color":"transparent"},{"offset":0.21875,"color":"#555555"},{"offset":0.234375,"color":"transparent"},{"offset":0.25,"color":"#555555"},{"offset":0.265625,"color":"transparent"},{"offset":0.28125,"color":"#555555"},{"offset":0.296875,"color":"transparent"},{"offset":0.3125,"color":"#555555"},{"offset":0.328125,"color":"transparent"},{"offset":0.34375,"color":"#555555"},{"offset":0.359375,"color":"transparent"},{"offset":0.375,"color":"#555555"},{"offset":0.390625,"color":"transparent"},{"offset":0.40625,"color":"#555555"},{"offset":0.421875,"color":"transparent"},{"offset":0.4375,"color":"#555555"},{"offset":0.453125,"color":"transparent"},{"offset":0.46875,"color":"#555555"},{"offset":0.484375,"color":"transparent"},{"offset":0.5,"color":"#555555"},{"offset":0.515625,"color":"transparent"},{"offset":0.53125,"color":"#555555"},{"offset":0.546875,"color":"transparent"},{"offset":0.5625,"color":"#555555"},{"offset":0.578125,"color":"transparent"},{"offset":0.59375,"color":"#555555"},{"offset":0.609375,"color":"transparent"},{"offset":0.625,"color":"#555555"},{"offset":0.640625,"color":"transparent"},{"offset":0.65625,"color":"#555555"},{"offset":0.671875,"color":"transparent"},{"offset":0.6875,"color":"#555555"},{"offset":0.703125,"color":"transparent"},{"offset":0.71875,"color":"#555555"},{"offset":0.734375,"color":"transparent"},{"offset":0.75,"color":"#555555"},{"offset":0.765625,"color":"transparent"},{"offset":0.78125,"color":"#555555"},{"offset":0.796875,"color":"transparent"},{"offset":0.8125,"color":"#555555"},{"offset":0.828125,"color":"transparent"},{"offset":0.84375,"color":"#555555"},{"offset":0.859375,"color":"transparent"},{"offset":0.875,"color":"#555555"},{"offset":0.890625,"color":"transparent"},{"offset":0.90625,"color":"#555555"},{"offset":0.921875,"color":"transparent"},{"offset":0.9375,"color":"#555555"},{"offset":0.953125,"color":"transparent"},{"offset":0.96875,"color":"#555555"},{"offset":0.984375,"color":"transparent"},{"offset":1,"color":"#555555"}]}}},
    {"data": {"name": "b_s4"}, "mark": {"type": "area", "interpolate": "monotone", "fill": "#ffa9b0", "fillOpacity": 0.75, "stroke": "#f08a95", "strokeWidth": 0.8}},
    {"data": {"name": "b_exp"}, "mark": {"type": "line", "strokeWidth": 1.8, "strokeJoin": "round", "color": "#000000"}},
    {"data": {"name": "b_fit"}, "mark": {"type": "line", "interpolate": "monotone", "strokeWidth": 2.2, "color": "#e8251e"}},
    {"data": {"name": "b_tl"}, "mark": {"type": "text", "align": "left", "baseline": "middle"}, "encoding": {"text": {"field": "t"}}},
    {"data": {"name": "b_tc"}, "mark": {"type": "text", "align": "center", "baseline": "middle", "fontSize": 11.8}, "encoding": {"text": {"field": "t"}}},
    {"data": {"values": []}, "mark": {"type": "point", "opacity": 1},
     "encoding": {
      "fill": {"field": "s", "type": "nominal",
        "scale": {"domain": ["Experimental", "Normal, Sn M₅", "Spectator, Sn M₅", "Normal, Sn M₄", "Spectator, Sn M₄", "Fit curve"],
          "range": ["#000000", "#ffffff", "#b9b1ec", "#ffffff", "#ffb5ba", "#e8251e"]},
        "legend": {"title": null, "orient": "none", "legendX": 204.5, "legendY": 30.8, "symbolSize": 196, "symbolStrokeWidth": 1, "labelOffset": 10, "rowPadding": 2}},
      "stroke": {"field": "s", "type": "nominal",
        "scale": {"domain": ["Experimental", "Normal, Sn M₅", "Spectator, Sn M₅", "Normal, Sn M₄", "Spectator, Sn M₄", "Fit curve"],
          "range": ["transparent", "#999999", "transparent", "#555555", "transparent", "transparent"]}},
      "shape": {"field": "s", "type": "nominal",
        "scale": {"domain": ["Experimental", "Normal, Sn M₅", "Spectator, Sn M₅", "Normal, Sn M₄", "Spectator, Sn M₄", "Fit curve"],
          "range": ["M-1,-0.18H2.25V0.18H-1Z",
                    "M-1,-0.86H2.25V0.86H-1Z M-1,-0.4L-0.54,-0.86 M-1,0.4L0.26,-0.86 M-0.66,0.86L1.06,-0.86 M0.14,0.86L1.86,-0.86 M0.94,0.86L2.25,-0.45 M1.74,0.86L2.25,0.35",
                    "M-1,-0.86H2.25V0.86H-1Z",
                    "M-1,-0.86H2.25V0.86H-1Z M-1,0.4L-0.54,0.86 M-1,-0.4L0.26,0.86 M-0.66,-0.86L1.06,0.86 M0.14,-0.86L1.86,0.86 M0.94,-0.86L2.25,0.45 M1.74,-0.86L2.25,-0.35",
                    "M-1,-0.86H2.25V0.86H-1Z",
                    "M-1,-0.18H2.25V0.18H-1Z"]}}
     }}
   ]
  },
 {
  "width": 279, "height": 216,
  "title": {"text": "c", "dx": -39, "offset": -4},
  "encoding": {
   "x": {"field": "x", "type": "quantitative", "scale": {"domain": [487, 499.5], "nice": false, "zero": false}, "axis": {"title": "Photon energy (eV)", "titlePadding": 4, "values": [487,488,489,490,491,492,493,494,495,496,497,498,499], "labelExpr": "datum.value % 2 === 0 ? format(datum.value, 'd') : ''"}},
   "y": {"field": "y", "type": "quantitative", "scale": {"domain": [0, 0.9], "nice": false}, "axis": {"title": "Normalized intensity", "values": [0,0.1,0.2,0.3,0.4,0.5,0.6,0.7,0.8,0.9], "labelExpr": "abs(datum.value*5 - round(datum.value*5)) < 0.01 ? format(datum.value, '.1f') : ''"}}
  },
  "resolve": {"scale": {"fill": "independent", "stroke": "independent", "shape": "independent", "strokeDash": "independent"}, "legend": {"fill": "independent", "stroke": "independent", "shape": "independent", "strokeDash": "independent"}},
  "layer": [
   {"data": {"name": "c_n5"}, "mark": {"type": "line", "strokeWidth": 1.6, "strokeDash": [2, 2.2], "color": "#cdeeb0"}},
   {"data": {"name": "c_n4"}, "mark": {"type": "line", "strokeWidth": 1.6, "strokeDash": [2, 2.2], "color": "#ffc0c2"}},
   {"data": {"name": "c_n5"}, "mark": {"type": "point", "filled": true, "size": 30, "color": "#d2f0b8", "opacity": 1}},
   {"data": {"name": "c_n4"}, "mark": {"type": "point", "filled": true, "size": 30, "color": "#ffc6c8", "opacity": 1}},
   {"data": {"name": "c_en5"}, "mark": {"type": "errorbar", "ticks": true, "size": 6, "thickness": 1, "color": "#c8eaa8"}, "encoding": {"y": {"field": "lo", "type": "quantitative"}, "y2": {"field": "hi"}}},
   {"data": {"name": "c_en4"}, "mark": {"type": "errorbar", "ticks": true, "size": 6, "thickness": 1, "color": "#ffb8bb"}, "encoding": {"y": {"field": "lo", "type": "quantitative"}, "y2": {"field": "hi"}}},
   {"data": {"name": "c_s5"}, "mark": {"type": "line", "strokeWidth": 2.2, "color": "#6abf22"}},
   {"data": {"name": "c_s4"}, "mark": {"type": "line", "strokeWidth": 2.2, "color": "#e3271d"}},
   {"data": {"name": "c_es5"}, "mark": {"type": "errorbar", "ticks": true, "size": 7, "thickness": 1.8, "color": "#6abf22"}, "encoding": {"y": {"field": "lo", "type": "quantitative"}, "y2": {"field": "hi"}}},
   {"data": {"name": "c_es4"}, "mark": {"type": "errorbar", "ticks": true, "size": 7, "thickness": 1.8, "color": "#e3271d"}, "encoding": {"y": {"field": "lo", "type": "quantitative"}, "y2": {"field": "hi"}}},
   {"data": {"name": "c_s5"}, "mark": {"type": "point", "filled": true, "size": 20, "color": "#6abf22", "opacity": 1}},
   {"data": {"name": "c_s4"}, "mark": {"type": "point", "filled": true, "size": 20, "color": "#e3271d", "opacity": 1}},
   {"data": {"name": "c_tc"}, "mark": {"type": "text", "align": "center", "baseline": "middle", "fontSize": 11.8}, "encoding": {"text": {"field": "t"}}},
   {"data": {"values": []}, "mark": {"type": "point", "opacity": 1},
    "encoding": {
     "fill": {"field": "g", "type": "nominal", "scale": {"domain": ["Spectator Auger", "Normal Auger"], "range": ["#6abf22", "#cdeeb0"]},
       "legend": {"title": null, "orient": "none", "legendX": 3.5, "legendY": -2.5, "symbolSize": 144, "symbolStrokeWidth": 2.2, "labelExpr": "''", "labelOffset": 0, "rowPadding": 0.3}},
     "stroke": {"field": "g", "type": "nominal", "scale": {"domain": ["Spectator Auger", "Normal Auger"], "range": ["#6abf22", "#cdeeb0"]}},
     "shape": {"field": "g", "type": "nominal", "scale": {"domain": ["Spectator Auger", "Normal Auger"], "range": ["M-1,0H4M1.88,0A0.38,0.38,0,1,1,1.12,0A0.38,0.38,0,1,1,1.88,0Z", "M-1,0H4M1.88,0A0.38,0.38,0,1,1,1.12,0A0.38,0.38,0,1,1,1.88,0Z"]}},
     "strokeDash": {"field": "g", "type": "nominal", "scale": {"domain": ["Spectator Auger", "Normal Auger"], "range": [[1, 0], [2, 2]]}}
    }},
   {"data": {"values": []}, "mark": {"type": "point", "opacity": 1},
    "encoding": {
     "fill": {"field": "r", "type": "nominal", "scale": {"domain": ["Spectator Auger", "Normal Auger"], "range": ["#e3271d", "#ffc0c2"]},
       "legend": {"title": null, "orient": "none", "legendX": 34.5, "legendY": -2.5, "symbolSize": 144, "symbolStrokeWidth": 2.2, "labelOffset": 18.8, "rowPadding": 0.3}},
     "stroke": {"field": "r", "type": "nominal", "scale": {"domain": ["Spectator Auger", "Normal Auger"], "range": ["#e3271d", "#ffc0c2"]}},
     "shape": {"field": "r", "type": "nominal", "scale": {"domain": ["Spectator Auger", "Normal Auger"], "range": ["M-1,0H4M1.88,0A0.38,0.38,0,1,1,1.12,0A0.38,0.38,0,1,1,1.88,0Z", "M-1,0H4M1.88,0A0.38,0.38,0,1,1,1.12,0A0.38,0.38,0,1,1,1.88,0Z"]}},
     "strokeDash": {"field": "r", "type": "nominal", "scale": {"domain": ["Spectator Auger", "Normal Auger"], "range": [[1, 0], [2, 2]]}}
    }}
  ]
 }
]
}
